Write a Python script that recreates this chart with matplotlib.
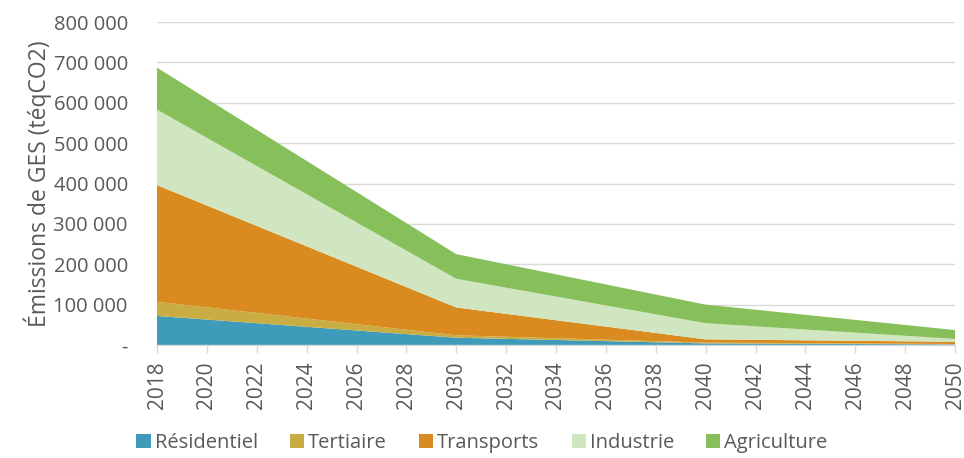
import matplotlib.pyplot as plt
from matplotlib.patches import Patch
from matplotlib.ticker import FuncFormatter

# Emissions by sector (teqCO2), scenario milestones
years = [2018, 2030, 2040, 2050]
residentiel = [72000, 18000, 4000, 1500]
tertiaire = [35000, 6000, 2000, 1000]
transports = [289000, 69000, 8000, 5500]
industrie = [187000, 71000, 40000, 7000]
agriculture = [104000, 61000, 46000, 22000]

labels = ['Résidentiel', 'Tertiaire', 'Transports', 'Industrie', 'Agriculture']
colors = ['#3E9BB9', '#C9AD42', '#D98B20', '#D0E6C0', '#87BF5A']
grey = '#595959'

plt.rcParams['font.family'] = ['Open Sans', 'DejaVu Sans']

fig = plt.figure(figsize=(9.64, 4.58), dpi=100)
ax = fig.add_axes([157 / 964, 1 - 345 / 458, (955 - 157) / 964, (345 - 22) / 458])

ax.stackplot(years, residentiel, tertiaire, transports, industrie, agriculture,
             colors=colors, labels=labels, linewidth=0, zorder=2)

ax.set_xlim(2018, 2050)
ax.set_ylim(0, 800000)
ax.set_xticks(range(2018, 2051, 2))
ax.set_yticks(range(0, 800001, 100000))


def fmt(v, pos):
    if v == 0:
        return '-'
    return f'{int(v):,}'.replace(',', ' ')


ax.yaxis.set_major_formatter(FuncFormatter(fmt))
ax.grid(axis='y', color='#D9D9D9', linewidth=1, zorder=0)
ax.set_axisbelow(True)

for s in ['top', 'right', 'left']:
    ax.spines[s].set_visible(False)
ax.spines['bottom'].set_color('#D9D9D9')
ax.spines['bottom'].set_linewidth(1)
ax.spines['bottom'].set_zorder(3)

ax.tick_params(axis='x', colors='#D9D9D9', labelcolor=grey, labelsize=15,
               rotation=90, length=6, width=1, direction='out', pad=6)
ax.tick_params(axis='y', length=0, labelcolor=grey, labelsize=14.5, pad=21)
for t in ax.get_yticklabels():
    t.set_horizontalalignment('right')

ax.set_ylabel('Émissions de GES (téqCO2)', color=grey, fontsize=16.5, labelpad=1)

handles = [Patch(facecolor=c, edgecolor='none') for c in colors]
fig.legend(handles, labels, loc='lower center', bbox_to_anchor=(0.5, -0.028),
           ncol=5, frameon=False, fontsize=14.5, labelcolor=grey,
           handlelength=0.7, handleheight=0.7, handletextpad=0.2,
           columnspacing=1.6)

fig.savefig('out.png', dpi=100)
